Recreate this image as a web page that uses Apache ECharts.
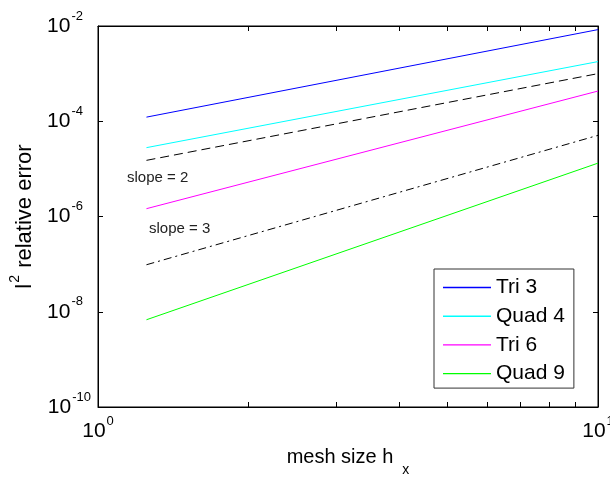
<!DOCTYPE html>
<html>
<head>
<meta charset="utf-8">
<script src="https://cdn.jsdelivr.net/npm/echarts@6/dist/echarts.min.js"></script>
<style>
html,body{margin:0;padding:0;background:#fff;}
#chart{width:610px;height:477px;}
</style>
</head>
<body>
<div id="chart"></div>
<script>
// mesh sizes (x) at the two ends of each line
const meshSize = [1.25, 10];
// l2 relative error per element type
const tri3 = [1.22e-4, 8.4e-3];
const quad4 = [2.79e-5, 1.79e-3];
const tri6 = [1.46e-6, 4.31e-4];
const quad9 = [6.79e-9, 1.32e-5];
// reference slope lines
const slope2 = [1.51e-5, 1.0e-3];
const slope3 = [9.7e-8, 5.06e-5];
// ticks
const xLabelTicks = [1, 10];
const xMinorTicks = [1, 2, 3, 4, 5, 6, 7, 8, 9, 10];
const yTicks = [1e-10, 1e-8, 1e-6, 1e-4, 1e-2];
const seriesNames = ['Tri 3', 'Quad 4', 'Tri 6', 'Quad 9'];
const seriesColors = ['#0000ff', '#00ffff', '#ff00ff', '#00ff00'];
const annotations = ['slope = 2', 'slope = 3'];

const FONT = 'Liberation Sans, Arial, sans-serif';
const pair = arr => meshSize.map((h, i) => [h, arr[i]]);
const expFmtY = v => {
  const e = String(Math.round(Math.log10(v)));
  return '{b|10}{' + (e.length >= 3 ? 's3' : 's2') + '|' + e + '}';
};
const expFmtX = v => '{b|10}{s|' + Math.round(Math.log10(v)) + '}';
const supStyle = (padRight) => ({fontSize: 13, fontFamily: FONT, color: '#000', verticalAlign: 'top', padding: [0, padRight, 0, 1]});
const labelRichY = {
  b: {fontSize: 21, fontFamily: FONT, color: '#000', lineHeight: 33},
  s2: supStyle(11),
  s3: supStyle(3)
};
const labelRichX = {
  b: {fontSize: 21, fontFamily: FONT, color: '#000', lineHeight: 33},
  s: supStyle(0)
};

const chart = echarts.init(document.getElementById('chart'), null, {renderer: 'canvas'});
const line = (name, arr, color, type) => ({
  name, type: 'line', data: pair(arr), symbol: 'none', silent: true,
  lineStyle: {color, width: 1, type: type || 'solid'},
  itemStyle: {color}, animation: false, z: 3
});

chart.setOption({
  animation: false,
  backgroundColor: '#fff',
  grid: {left: 98, right: 12, top: 26, bottom: 70, containLabel: false, outerBoundsMode: 'none',
    show: true, borderColor: '#000', borderWidth: 1, backgroundColor: 'transparent'},
  xAxis: [{
    type: 'log', logBase: 10, min: 1, max: 10, position: 'bottom',
    name: '{n|mesh size h}{sub|x}', nameLocation: 'middle', nameGap: 30,
    nameTextStyle: {rich: {
      n: {fontSize: 20, fontFamily: FONT, color: '#000', lineHeight: 40},
      sub: {fontSize: 14, fontFamily: FONT, color: '#000', verticalAlign: 'bottom', padding: [0, 0, 0, 9]}
    }},
    axisLine: {show: true, lineStyle: {color: '#000', width: 1}},
    axisTick: {show: true, inside: true, length: 5, customValues: xMinorTicks, lineStyle: {color: '#000'}},
    axisLabel: {show: true, customValues: xLabelTicks, formatter: expFmtX, rich: labelRichX, margin: 8, showMinLabel: true, showMaxLabel: true},
    splitLine: {show: false}, minorTick: {show: false}
  }, {
    type: 'log', logBase: 10, min: 1, max: 10, position: 'top',
    axisLine: {show: true, lineStyle: {color: '#000', width: 1}},
    axisTick: {show: true, inside: true, length: 5, customValues: xMinorTicks, lineStyle: {color: '#000'}},
    axisLabel: {show: false}, splitLine: {show: false}
  }],
  yAxis: [{
    type: 'log', logBase: 10, min: 1e-10, max: 1e-2, position: 'left',
    name: '{l|l}{s|2}{n| relative error}', nameLocation: 'middle', nameRotate: 90, nameGap: 54,
    nameTextStyle: {rich: {
      l: {fontSize: 22, fontFamily: FONT, color: '#000', lineHeight: 34},
      s: {fontSize: 14, fontFamily: FONT, color: '#000', verticalAlign: 'top', padding: [0, 1, 0, 1]},
      n: {fontSize: 22, fontFamily: FONT, color: '#000', lineHeight: 34}
    }},
    axisLine: {show: true, lineStyle: {color: '#000', width: 1}},
    axisTick: {show: true, inside: true, length: 5, customValues: yTicks, lineStyle: {color: '#000'}},
    axisLabel: {show: true, customValues: yTicks, formatter: expFmtY, rich: labelRichY, margin: 4, showMinLabel: true, showMaxLabel: true},
    splitLine: {show: false}
  }, {
    type: 'log', logBase: 10, min: 1e-10, max: 1e-2, position: 'right',
    axisLine: {show: true, lineStyle: {color: '#000', width: 1}},
    axisTick: {show: true, inside: true, length: 5, customValues: yTicks, lineStyle: {color: '#000'}},
    axisLabel: {show: false}, splitLine: {show: false}
  }],
  legend: {
    data: seriesNames.map((n, i) => ({name: n, itemStyle: {color: seriesColors[i], borderWidth: 0}})),
    orient: 'vertical', left: 434, top: 269,
    padding: [8, 9, 4, 9], itemWidth: 48, itemHeight: 1.4, itemGap: 7.7, icon: 'rect',
    borderColor: '#333', borderWidth: 1, backgroundColor: '#fff',
    textStyle: {fontSize: 21, fontFamily: FONT, color: '#000', lineHeight: 21},
    selectedMode: false
  },
  graphic: [
    {type: 'text', left: 127, top: 170, style: {text: annotations[0], font: '15px ' + FONT, fill: '#222'}},
    {type: 'text', left: 149, top: 221, style: {text: annotations[1], font: '15px ' + FONT, fill: '#222'}}
  ],
  series: [
    line(seriesNames[0], tri3, seriesColors[0]),
    line(seriesNames[1], quad4, seriesColors[1]),
    line('slope2', slope2, '#000', [9, 5]),
    line(seriesNames[2], tri6, seriesColors[2]),
    line('slope3', slope3, '#000', [8, 4, 2, 4]),
    line(seriesNames[3], quad9, seriesColors[3])
  ]
});
</script>
</body>
</html>
